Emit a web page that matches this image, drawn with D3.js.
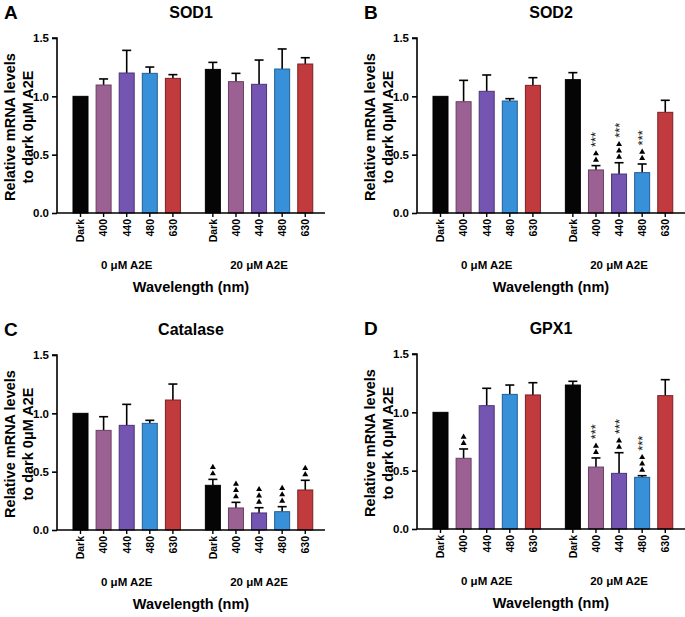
<!DOCTYPE html>
<html><head><meta charset="utf-8">
<script src="https://cdn.jsdelivr.net/npm/d3@7/dist/d3.min.js"></script>
<style>body{margin:0;background:#fff}svg{display:block;font-family:"Liberation Sans",Arial,sans-serif}</style>
</head><body><svg id="c" width="685" height="617"></svg>
<script>
const categories = ["Dark","400","440","480","630"];
const groups = ["0 μM A2E","20 μM A2E"];
const yTicks = [0,0.5,1.0,1.5];
const colors = ["#050505","#9b6192","#7455b1","#3890d8","#c13a3e"];
const strokes = ["#000","#6b3f63","#4a337a","#1f5f96","#7a1f22"];

const panelLetters = ["A","B","C","D"];
const panelTitles = ["SOD1","SOD2","Catalase","GPX1"];

// values: [0 μM group..., 20 μM group...]
const sod1Mean = [1.0,1.097,1.20,1.197,1.154, 1.231,1.126,1.103,1.234,1.277];
const sod1Err  = [0,1.149,1.394,1.251,1.186, 1.291,1.197,1.311,1.406,1.331];
const sod2Mean = [1.0,0.954,1.043,0.96,1.094, 1.143,0.369,0.334,0.346,0.863];
const sod2Err  = [0,1.137,1.183,0.98,1.16, 1.203,0.406,0.431,0.42,0.966];
const catMean  = [1.0,0.854,0.897,0.914,1.114, 0.383,0.189,0.146,0.157,0.343];
const catErr   = [0,0.971,1.077,0.94,1.251, 0.434,0.237,0.191,0.20,0.426];
const gpxMean  = [1.0,0.606,1.057,1.154,1.149, 1.234,0.531,0.477,0.443,1.143];
const gpxErr   = [0,0.686,1.206,1.234,1.254, 1.266,0.609,0.654,0.457,1.28];
// annotations: number of triangles, star text
const sod2Tri = [0,0,0,0,0, 0,2,3,2,0];
const sod2Star= ["","","","","", "","***","***","***",""];
const catTri  = [0,0,0,0,0, 2,3,3,3,2];
const catStar = ["","","","","", "","","","",""];
const gpxTri  = [0,2,0,0,0, 0,2,2,3,0];
const gpxStar = ["","","","","", "","***","***","***",""];
const sod1Tri = [0,0,0,0,0, 0,0,0,0,0];
const sod1Star= ["","","","","", "","","","",""];

const panels = [
  {ox:0,oy:0,mean:sod1Mean,err:sod1Err,tri:sod1Tri,star:sod1Star},
  {ox:360,oy:0,mean:sod2Mean,err:sod2Err,tri:sod2Tri,star:sod2Star},
  {ox:0,oy:317,mean:catMean,err:catErr,tri:catTri,star:catStar},
  {ox:360,oy:316,mean:gpxMean,err:gpxErr,tri:gpxTri,star:gpxStar}
];

const svg = d3.select("#c");
panels.forEach((p,pi)=>{
  const g = svg.append("g").attr("transform",`translate(${p.ox},${p.oy})`);
  const y = d3.scaleLinear().domain([0,1.5]).range([213,38]);
  const x = d3.scaleLinear().domain([0,1]).range([80.5,103.6]);
  const slot = (gi,ci)=> gi*5.73+ci;
  const bw = 15;

  g.append("text").attr("x",4).attr("y",19).attr("font-size",19).attr("font-weight","bold").text(panelLetters[pi]);
  g.append("text").attr("x",191).attr("y",18).attr("text-anchor","middle").attr("font-size",16).attr("font-weight","bold").text(panelTitles[pi]);

  const ya = g.append("g").attr("transform","translate(57,0)")
    .call(d3.axisLeft(y).tickValues(yTicks).tickFormat(d3.format(".1f")).tickSize(5).tickPadding(3));
  ya.select(".domain").attr("stroke","#000").attr("stroke-width",1.6).attr("d","M-5,"+y(1.5)+"H0V"+y(0));
  ya.selectAll(".tick line").attr("stroke-width",1.6);
  ya.selectAll("text").attr("font-size",11.5).attr("font-weight","bold").attr("font-family","Liberation Sans, Arial, sans-serif").attr("fill","#000");

  const yt = g.append("text").attr("transform","translate(15,127) rotate(-90)").attr("text-anchor","middle")
    .attr("font-size",14.5).attr("font-weight","bold");
  yt.append("tspan").attr("x",0).attr("dy",0).text("Relative mRNA levels");
  yt.append("tspan").attr("x",0).attr("dy",17.5).text("to dark 0μM A2E");

  const data = [];
  groups.forEach((gn,gi)=>categories.forEach((c,ci)=>{
    const k = gi*5+ci;
    data.push({gi,ci,c,m:p.mean[k],e:p.err[k],tri:p.tri[k],star:p.star[k]});
  }));
  data.filter(d=>d.e>d.m).forEach(d=>{
    const cx = x(slot(d.gi,d.ci));
    g.append("line").attr("x1",cx).attr("x2",cx).attr("y1",y(d.m)).attr("y2",y(d.e)).attr("stroke","#000").attr("stroke-width",1.6);
    g.append("line").attr("x1",cx-4.5).attr("x2",cx+4.5).attr("y1",y(d.e)).attr("y2",y(d.e)).attr("stroke","#000").attr("stroke-width",1.6);
  });
  g.selectAll("rect.bar").data(data).join("rect").attr("class","bar")
    .attr("x",d=>x(slot(d.gi,d.ci))-bw/2).attr("width",bw)
    .attr("y",d=>y(d.m)).attr("height",d=>y(0)-y(d.m))
    .attr("fill",d=>colors[d.ci]).attr("stroke",d=>strokes[d.ci]).attr("stroke-width",1);

  const ann = g.append("g").attr("opacity",0.999);
  data.forEach(d=>{
    const cx = x(slot(d.gi,d.ci));
    let top = y(Math.max(d.e,d.m)) - 4;
    for(let t=0;t<d.tri;t++){
      const by = top - t*6.3;
      ann.append("path").attr("d",`M${cx-3},${by}L${cx+3},${by}L${cx},${by-5.2}Z`).attr("fill","#000");
    }
    if(d.star){
      const sy = top - d.tri*6.3 - 2;
      ann.append("text").attr("transform",`translate(${cx+4.5},${sy}) rotate(-90)`)
        .attr("font-size",13).attr("fill","#111").attr("text-anchor","start").text(d.star);
    }
  });

  g.append("line").attr("x1",57).attr("x2",325).attr("y1",y(0)).attr("y2",y(0)).attr("stroke","#000").attr("stroke-width",1.6);
  data.forEach(d=>{
    const cx = x(slot(d.gi,d.ci));
    g.append("line").attr("x1",cx).attr("x2",cx).attr("y1",y(0)).attr("y2",y(0)+4).attr("stroke","#000").attr("stroke-width",1.4);
    g.append("text").attr("transform",`translate(${cx+3.8},${y(0)+6}) rotate(-90)`)
      .attr("text-anchor","end").attr("font-size",10.5).attr("font-weight","bold").text(d.c);
  });
  groups.forEach((gn,gi)=>{
    const cx = x(slot(gi,2));
    g.append("text").attr("x",cx).attr("y",269).attr("text-anchor","middle").attr("font-size",11.5).attr("font-weight","bold").text(gn);
  });
  g.append("text").attr("x",191).attr("y",292).attr("text-anchor","middle").attr("font-size",14.5).attr("font-weight","bold").text("Wavelength (nm)");
});
</script></body></html>
